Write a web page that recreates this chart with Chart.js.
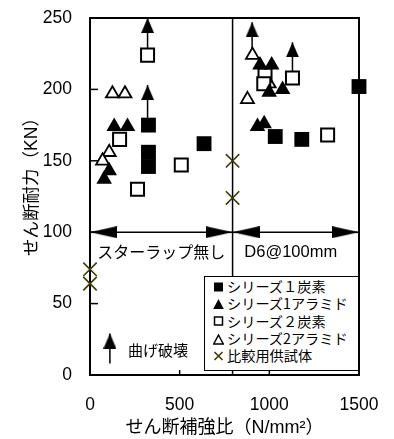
<!DOCTYPE html>
<html>
<head>
<meta charset="utf-8">
<script src="https://cdn.jsdelivr.net/npm/chart.js@4/dist/chart.umd.min.js"></script>
<style>
  html, body { margin: 0; padding: 0; background: #fff; }
  #wrap { position: relative; width: 394px; height: 439px; overflow: hidden; }
  #chart { position: absolute; left: 0; top: 0; }
  #legend {
    position: absolute; box-sizing: border-box; width: 155px; height: 95px;
    background: #fff; border: 1.5px solid #000; padding: 1px 0 0 8px;
    font-family: 'Noto Sans CJK JP', sans-serif; font-size: 14.2px; color: #000;
  }
  #legend .row { display: flex; align-items: center; height: 17.3px; line-height: 17.3px; white-space: nowrap; }
  #legend svg { flex: none; margin-right: 3px; }
</style>
</head>
<body>
<div id="wrap">
  <canvas id="chart" width="394" height="439"></canvas>
  <div id="legend"></div>
</div>
<script>
// せん断補強比 (N/mm²) vs せん断耐力 (kN)
const s1CarbonX = [326, 326, 326, 636, 1033, 1181, 1500];
const s1CarbonY = [175, 156, 146, 162, 167, 165, 202];
const s1AramidX = [79, 107, 135, 209, 934, 971, 948, 1013, 999, 1074];
const s1AramidY = [137, 143, 174, 174, 174, 176, 217, 217, 198, 200];
const s2CarbonX = [321, 165, 265, 509, 976, 969, 1129, 1325];
const s2CarbonY = [224, 165, 130, 147, 210, 204, 208, 168];
const s2AramidX = [125, 195, 107, 70, 906, 878, 999];
const s2AramidY = [197, 197, 156, 150, 224, 193, 204];
const controlX = [795, 795, 0, 0];
const controlY = [150, 124, 74, 64];

// 曲げ破壊: arrows rising from the specimen's marker
const flexX = [321, 321, 904, 1129];
const flexFromY = [229, 180, 229, 212];
const flexToY = [250, 203, 247, 233];

// key arrow for 曲げ破壊
const keyArrowX = 111;
const keyArrowFromY = 8;
const keyArrowToY = 29;

const seriesLabels = ['シリーズ１炭素', 'シリーズ1アラミド', 'シリーズ２炭素', 'シリーズ2アラミド', '比較用供試体'];
const zoneEdges = [0, 795, 1500];
const zoneLabels = ['スターラップ無し', 'D6@100mm'];
const zoneArrowY = 100;
const zoneLabelY = 86;
const keyLabel = '曲げ破壊';
const xTitle = 'せん断補強比（N/mm²）';
const yTitle = 'せん断耐力（KN）';
const xTicks = [0, 500, 1000, 1500];
const yTicks = [0, 50, 100, 150, 200, 250];

const OLIVE = '#3c3c00';
const LATIN = "'Liberation Sans', Arial, 'Noto Sans CJK JP', sans-serif";
const CJK = "'Noto Sans CJK JP', sans-serif";

function pts(xs, ys) { return xs.map((x, i) => ({ x, y: ys[i] })); }

// Arrowhead bitmap: tip at the image centre, body trailing below it
function arrowHead(len, wid) {
  const c = document.createElement('canvas');
  c.width = wid; c.height = len * 2;
  const g = c.getContext('2d');
  g.fillStyle = '#000';
  g.beginPath();
  g.moveTo(wid / 2, len);
  g.lineTo(wid, len * 2);
  g.lineTo(0, len * 2);
  g.closePath();
  g.fill();
  return c;
}
const upHead = arrowHead(15, 13);
const sideHead = arrowHead(27, 12);

function arrowDataset(x, y0, y1) {
  return {
    data: [{ x, y: y0 }, { x, y: y1 }],
    showLine: true, borderColor: '#000', borderWidth: 1.5,
    pointStyle: ['circle', upHead], pointRadius: [0, 1], pointRotation: 0,
    backgroundColor: '#000', clip: false, order: 5
  };
}

const datasets = [
  { label: seriesLabels[0], data: pts(s1CarbonX, s1CarbonY), pointStyle: 'rect', pointRadius: 10.5,
    backgroundColor: '#000', borderColor: '#000', borderWidth: 0, clip: false, order: 1 },
  { label: seriesLabels[1], data: pts(s1AramidX, s1AramidY), pointStyle: 'triangle', pointRadius: 9,
    backgroundColor: '#000', borderColor: '#000', borderWidth: 0, clip: false, order: 1 },
  { label: seriesLabels[2], data: pts(s2CarbonX, s2CarbonY), pointStyle: 'rect', pointRadius: 9.2,
    backgroundColor: '#fff', borderColor: '#000', borderWidth: 2, clip: false, order: 2 },
  { label: seriesLabels[3], data: pts(s2AramidX, s2AramidY), pointStyle: 'triangle', pointRadius: 7.5,
    backgroundColor: '#fff', borderColor: '#000', borderWidth: 1.8, clip: false, order: 2 },
  { label: seriesLabels[4], data: pts(controlX, controlY), pointStyle: 'crossRot', pointRadius: 9.5,
    backgroundColor: OLIVE, borderColor: OLIVE, borderWidth: 1.6, clip: false, order: 0 },
  // stirrup zone boundary
  { data: [{ x: zoneEdges[1], y: yTicks[0] }, { x: zoneEdges[1], y: yTicks[yTicks.length - 1] }],
    showLine: true, borderColor: '#000', borderWidth: 1.5, pointRadius: 0, clip: false, order: 9 },
];

// double-headed span arrows for each stirrup zone
for (let i = 0; i < zoneEdges.length - 1; i++) {
  datasets.push({
    data: [{ x: zoneEdges[i], y: zoneArrowY }, { x: zoneEdges[i + 1], y: zoneArrowY }],
    showLine: true, borderColor: '#000', borderWidth: 1.5,
    pointStyle: sideHead, pointRadius: 1, pointRotation: [-90, 90],
    backgroundColor: '#000', clip: false, order: 8
  });
}
for (let i = 0; i < flexX.length; i++) datasets.push(arrowDataset(flexX[i], flexFromY[i], flexToY[i]));
datasets.push(arrowDataset(keyArrowX, keyArrowFromY, keyArrowToY));

const decorations = {
  id: 'decorations',
  afterLayout(chart) {
    const a = chart.chartArea;
    const lg = document.getElementById('legend');
    lg.style.left = (a.right - 155) + 'px';
    lg.style.top = (a.bottom - 4 - 95) + 'px';
  },
  beforeDatasetsDraw(chart) {
    const { ctx, chartArea: a, scales: { x, y } } = chart;
    ctx.save();
    ctx.strokeStyle = '#000';
    ctx.lineWidth = 1.5;
    yTicks.forEach(v => {
      const p = y.getPixelForValue(v);
      ctx.beginPath(); ctx.moveTo(a.left, p); ctx.lineTo(a.left + 8, p); ctx.stroke();
    });
    xTicks.forEach(v => {
      const p = x.getPixelForValue(v);
      ctx.beginPath(); ctx.moveTo(p, a.bottom); ctx.lineTo(p, a.bottom - 5); ctx.stroke();
    });
    ctx.lineWidth = 2;
    ctx.strokeRect(a.left, a.top, a.right - a.left, a.bottom - a.top);

    // vertical axis title, set slightly above the plot's middle
    ctx.fillStyle = '#000';
    ctx.font = '17.5px ' + LATIN;
    ctx.textAlign = 'center';
    ctx.textBaseline = 'middle';
    ctx.translate(32, (a.top + a.bottom) / 2 - 14);
    ctx.rotate(-Math.PI / 2);
    ctx.fillText(yTitle, 0, 0);
    ctx.restore();
  },
  afterDatasetsDraw(chart) {
    const { ctx, scales: { x, y } } = chart;
    ctx.save();
    ctx.fillStyle = '#000';
    ctx.textBaseline = 'middle';
    ctx.textAlign = 'center';
    const ly = y.getPixelForValue(zoneLabelY);
    ctx.font = '16px ' + CJK;
    ctx.fillText(zoneLabels[0], x.getPixelForValue((zoneEdges[0] + zoneEdges[1]) / 2), ly);
    ctx.font = '16.5px ' + LATIN;
    ctx.fillText(zoneLabels[1], x.getPixelForValue((zoneEdges[1] + zoneEdges[2]) / 2) - 5, ly);
    ctx.textAlign = 'left';
    ctx.font = '15px ' + CJK;
    ctx.fillText(keyLabel, x.getPixelForValue(keyArrowX) + 18, y.getPixelForValue((keyArrowFromY + keyArrowToY) / 2) + 2);
    ctx.restore();
  }
};

// legend markers
const markers = [
  '<svg width="11" height="12"><rect x="1" y="1.5" width="9" height="9" fill="#000"/></svg>',
  '<svg width="11" height="12"><polygon points="5.5,1 10.8,11 0.2,11" fill="#000"/></svg>',
  '<svg width="11" height="12"><rect x="1.5" y="2" width="8" height="8" fill="#fff" stroke="#000" stroke-width="1.5"/></svg>',
  '<svg width="11" height="12"><polygon points="5.5,2 10.3,11 0.7,11" fill="none" stroke="#000" stroke-width="1.5"/></svg>',
  '<svg width="11" height="12"><path d="M1.5,2 L9.5,10 M9.5,2 L1.5,10" stroke="' + OLIVE + '" stroke-width="1.6"/></svg>'
];
document.getElementById('legend').innerHTML = seriesLabels
  .map((t, i) => '<div class="row">' + markers[i] + '<span>' + t + '</span></div>').join('');

Chart.defaults.font.family = LATIN;
Chart.defaults.color = '#000';

new Chart(document.getElementById('chart'), {
  type: 'scatter',
  data: { datasets },
  options: {
    responsive: false,
    animation: false,
    events: [],
    layout: { padding: { top: 18, right: 35, bottom: 0, left: 0 } },
    plugins: { legend: { display: false }, tooltip: { enabled: false } },
    scales: {
      x: {
        type: 'linear', min: xTicks[0], max: xTicks[xTicks.length - 1],
        afterBuildTicks: s => { s.ticks = xTicks.map(v => ({ value: v })); },
        grid: { display: false, drawTicks: false }, border: { display: false },
        ticks: { padding: 20, font: { size: 17.5 }, color: '#000', maxRotation: 0, callback: v => String(v) },
        title: { display: true, text: xTitle, font: { size: 18 }, color: '#000', padding: { top: 0, bottom: 0 } },
        afterFit: s => { s.height = 64; s.paddingLeft = 0; s.paddingRight = 0; }
      },
      y: {
        type: 'linear', min: yTicks[0], max: yTicks[yTicks.length - 1],
        afterBuildTicks: s => { s.ticks = yTicks.map(v => ({ value: v })); },
        grid: { display: false, drawTicks: false }, border: { display: false },
        ticks: { padding: 18, font: { size: 17.5 }, color: '#000', callback: v => String(v) },
        title: { display: false },
        afterFit: s => { s.width = 90; s.paddingTop = 0; s.paddingBottom = 0; }
      }
    }
  },
  plugins: [decorations]
});
</script>
</body>
</html>
